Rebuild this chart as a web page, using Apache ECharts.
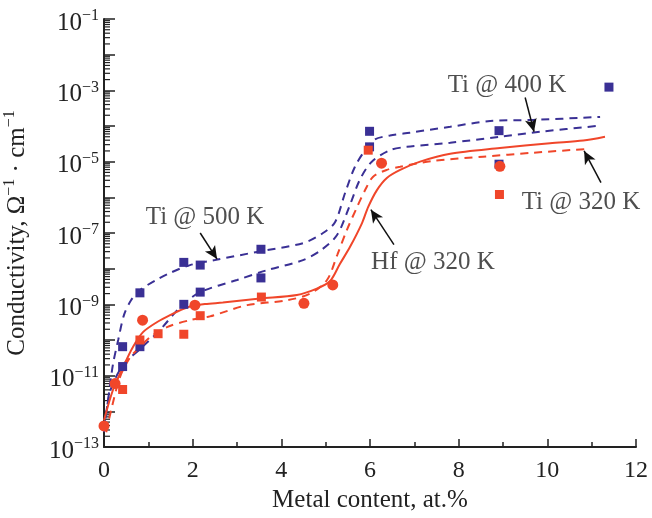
<!DOCTYPE html>
<html>
<head>
<meta charset="utf-8">
<script src="https://cdn.jsdelivr.net/npm/echarts@6/dist/echarts.min.js"></script>
<style>
  html, body { margin: 0; padding: 0; background: #fff; }
  #chart { width: 652px; height: 518px; }
</style>
</head>
<body>
<div id="chart"></div>
<script>
const BLUE = "#3a3095"
const RED = "#f0462a"
const FONT = "Liberation Serif"

// measured points, [metal content at.%, conductivity]
const ti500Points = [[0.81, 2.1e-9], [1.8, 1.5e-8], [2.17, 1.26e-8], [3.54, 3.5e-8], [5.99, 7.1e-5], [8.91, 7.4e-5], [11.39, 1.23e-3]]
const ti400Points = [[0.42, 6.5e-11], [0.42, 1.8e-11], [0.81, 6.5e-11], [1.8, 1.0e-9], [2.17, 2.2e-9], [3.54, 5.5e-9], [5.99, 2.6e-5], [8.91, 8.5e-6]]
const ti320Points = [[0.42, 4.1e-12], [0.81, 1.0e-10], [1.22, 1.5e-10], [1.8, 1.45e-10], [2.17, 4.8e-10], [3.55, 1.6e-9], [5.96, 2.1e-5], [8.92, 1.2e-6]]
const hfPoints = [[0, 3.9e-13], [0.25, 6.0e-12], [0.87, 3.6e-10], [2.05, 9.5e-10], [4.51, 1.07e-9], [5.16, 3.5e-9], [6.26, 9.1e-6], [8.93, 7.4e-6]]

// fitted curves
const ti500Curve = [[0, 3.4e-13], [0.09, 2.0e-12], [0.2, 2.0e-11], [0.32, 1.0e-10], [0.45, 5.0e-10], [0.61, 1.3e-9], [0.81, 2.5e-9], [1.19, 4.9e-9], [1.49, 7.6e-9], [1.94, 1.26e-8], [2.5, 1.74e-8], [3.45, 2.95e-8], [4.49, 5.2e-8], [4.94, 1.0e-7], [5.21, 2.0e-7], [5.44, 1.35e-6], [5.66, 7.2e-6], [5.89, 2.1e-5], [6.11, 4.2e-5], [6.45, 5.4e-5], [6.9, 6.5e-5], [7.81, 9.5e-5], [8.71, 1.38e-4], [9.68, 1.48e-4], [11.19, 1.8e-4]]
const ti400Curve = [[0, 2.6e-13], [0.135, 3.5e-12], [0.43, 2.0e-11], [0.81, 5.5e-11], [1.26, 1.9e-10], [1.74, 8.9e-10], [2.17, 2.2e-9], [3.0, 4.8e-9], [3.68, 9.1e-9], [4.49, 1.74e-8], [4.91, 3.4e-8], [5.26, 8.9e-8], [5.55, 6.2e-7], [5.77, 3.1e-6], [6.04, 1.0e-5], [6.45, 2.1e-5], [6.83, 2.6e-5], [7.81, 3.4e-5], [8.93, 5.0e-5], [9.84, 6.9e-5], [11.19, 1.02e-4]]
const ti320Curve = [[0.05, 2.6e-13], [0.16, 1.07e-12], [0.36, 9.1e-12], [0.59, 3.3e-11], [0.81, 6.3e-11], [1.04, 1.2e-10], [1.42, 2.3e-10], [1.94, 3.6e-10], [2.39, 4.6e-10], [3.23, 9.5e-10], [4.13, 1.3e-9], [4.65, 2.0e-9], [5.03, 4.8e-9], [5.26, 2.4e-8], [5.48, 1.23e-7], [5.71, 5.4e-7], [5.89, 1.6e-6], [6.07, 3.8e-6], [6.38, 5.9e-6], [6.68, 7.2e-6], [7.42, 1.05e-5], [8.55, 1.38e-5], [9.68, 1.78e-5], [10.96, 2.3e-5]]
const hfCurve = [[0, 5.6e-13], [0.2, 3.9e-12], [0.43, 1.74e-11], [0.65, 6.3e-11], [0.88, 1.66e-10], [1.2, 3.2e-10], [1.49, 5.0e-10], [1.89, 8.3e-10], [2.28, 1.02e-9], [2.68, 1.12e-9], [3.52, 1.45e-9], [4.35, 1.82e-9], [4.8, 2.75e-9], [5.1, 4.5e-9], [5.32, 1.35e-8], [5.55, 4.1e-8], [5.82, 1.9e-7], [5.96, 5.4e-7], [6.16, 1.62e-6], [6.38, 3.5e-6], [6.68, 5.9e-6], [7.13, 1.0e-5], [7.81, 1.66e-5], [8.93, 2.4e-5], [10.06, 3.3e-5], [10.81, 3.9e-5], [11.3, 5.0e-5]]

// annotations: label text, label anchor, arrow start, arrow tip
const labels = ["Ti @ 500 K", "Ti @ 400 K", "Ti @ 320 K", "Hf @ 320 K"]
const labelAt = [[2.28, 2.8e-7], [9.09, 1.35e-3], [10.76, 7.4e-7], [7.42, 1.45e-8]]
const arrowFrom = [[2.17, 1.0e-7], [9.5, 6.3e-4], [11.21, 2.6e-6], [6.54, 4.7e-8]]
const arrowTo = [[2.55, 1.86e-8], [9.7, 6.9e-5], [10.83, 2.0e-5], [6.02, 4.5e-7]]

const xTicks = { min: 0, max: 12, interval: 2 }
const yTicks = { min: 1e-13, max: 1e-1 }

// log minor ticks 2..9 for each decade
const minorTicks = []
for (let e = -13; e < -1; e++) {
  for (let k = 2; k <= 9; k++) minorTicks.push([0, k * Math.pow(10, e)])
}

const chart = echarts.init(document.getElementById("chart"), null, { renderer: "canvas" })

const dashed = (data, color) => ({
  type: "line",
  data: data,
  smooth: 0.3,
  showSymbol: false,
  silent: true,
  lineStyle: { color: color, width: 2, type: [8, 6] }
})

const scatter = (data, color, symbol, size) => ({
  type: "scatter",
  data: data,
  symbol: symbol,
  symbolSize: size,
  itemStyle: { color: color, opacity: 1 },
  z: 5
})

chart.setOption({
  animation: false,
  textStyle: { fontFamily: FONT },
  grid: { left: 104, top: 19, width: 532, height: 428, outerBoundsMode: "none", containLabel: false },
  xAxis: {
    type: "value",
    min: xTicks.min,
    max: xTicks.max,
    interval: xTicks.interval,
    name: "Metal content, at.%",
    nameLocation: "middle",
    nameGap: 41,
    nameTextStyle: { fontFamily: FONT, fontSize: 25, color: "#222" },
    axisLine: { lineStyle: { color: "#222", width: 2 } },
    axisTick: { inside: true, length: 8, lineStyle: { color: "#222", width: 1.5 } },
    minorTick: { show: true, splitNumber: 2, length: 5, lineStyle: { color: "#222", width: 1.5 } },
    axisLabel: { fontFamily: FONT, fontSize: 24, color: "#222", margin: 12 },
    splitLine: { show: false }
  },
  yAxis: {
    type: "log",
    logBase: 10,
    min: yTicks.min,
    max: yTicks.max,
    interval: 1,
    name: "{b|Conductivity, Ω}{s|−1}{b| · cm}{s|−1}",
    nameLocation: "middle",
    nameRotate: 90,
    nameGap: 72,
    nameTextStyle: {
      rich: {
        b: { fontFamily: FONT, fontSize: 25, color: "#222", lineHeight: 30 },
        s: { fontFamily: FONT, fontSize: 16, color: "#222", verticalAlign: "top", lineHeight: 16 }
      }
    },
    axisLine: { lineStyle: { color: "#222", width: 2 } },
    axisTick: { inside: true, length: 11, lineStyle: { color: "#222", width: 1.5 } },
    axisLabel: {
      margin: 5,
      padding: [8, 0, 0, 0],
      formatter: (v) => {
        const e = Math.round(Math.log10(v))
        if (e % 2 === 0) return ""
        return "{b|10}{s|−" + Math.abs(e) + "}"
      },
      rich: {
        b: { fontFamily: FONT, fontSize: 25, color: "#222", lineHeight: 30 },
        s: { fontFamily: FONT, fontSize: 16, color: "#222", verticalAlign: "top", lineHeight: 16 }
      }
    },
    splitLine: { show: false }
  },
  series: [
    {
      type: "custom",
      silent: true,
      clip: false,
      data: minorTicks,
      renderItem: (params, api) => {
        const p = api.coord([0, api.value(1)])
        return {
          type: "line",
          shape: { x1: p[0], y1: p[1], x2: p[0] + 6, y2: p[1] },
          style: { stroke: "#222", lineWidth: 1.2 }
        }
      }
    },
    dashed(ti500Curve, BLUE),
    dashed(ti400Curve, BLUE),
    dashed(ti320Curve, RED),
    {
      type: "line",
      data: hfCurve,
      smooth: 0.3,
      showSymbol: false,
      silent: true,
      lineStyle: { color: RED, width: 2 },
      markLine: {
        silent: true,
        symbol: ["none", "arrow"],
        symbolSize: [9, 13],
        lineStyle: { color: "#111", width: 1.5, type: "solid" },
        label: { show: false },
        data: arrowFrom.map((f, i) => [{ coord: f }, { coord: arrowTo[i] }])
      }
    },
    scatter(ti500Points, BLUE, "rect", 9),
    scatter(ti400Points, BLUE, "rect", 9),
    scatter(ti320Points, RED, "rect", 9),
    scatter(hfPoints, RED, "circle", 11),
    {
      type: "scatter",
      silent: true,
      symbolSize: 0,
      data: labelAt.map((p, i) => ({ value: p, name: labels[i] })),
      label: {
        show: true,
        position: "inside",
        formatter: (p) => p.name,
        fontFamily: FONT,
        fontSize: 25,
        color: "#222"
      }
    }
  ]
})
</script>
</body>
</html>
